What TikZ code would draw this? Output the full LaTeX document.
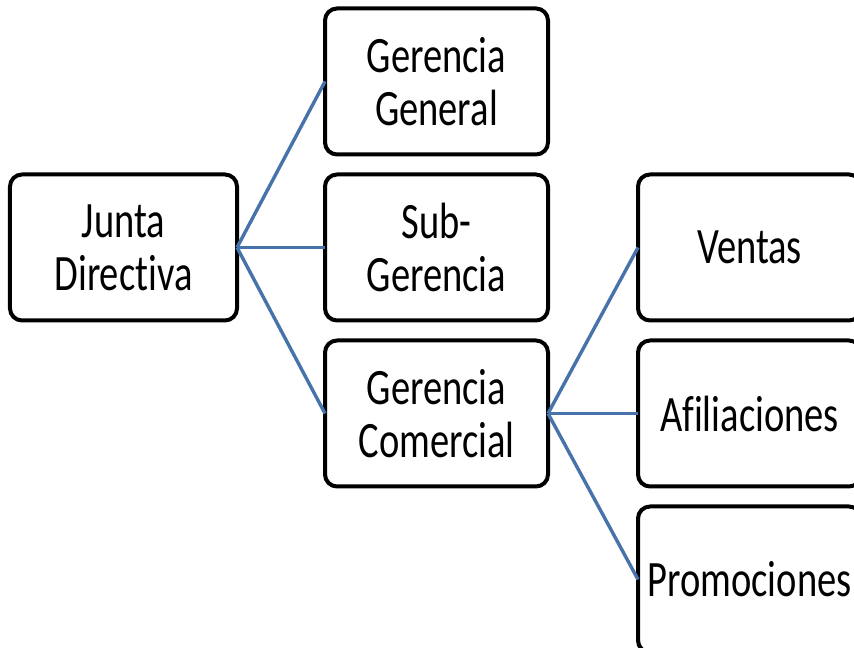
\documentclass[tikz,border=0pt]{standalone}
\usepackage{fontspec}
\setmainfont{Carlito}[FakeStretch=0.755, Ligatures={NoCommon}]
\usetikzlibrary{positioning}

\definecolor{linkblue}{RGB}{70,115,170}

\begin{document}
\begin{tikzpicture}[
    x=1bp, y=1bp,
    node distance=20bp and 88bp, % Gaps between boxes
    box/.style={draw, line width=4bp, rounded corners=12bp, outer sep=0pt,
        minimum width=223bp, minimum height=146bp, inner sep=0pt,
        align=center, font=\fontsize{51bp}{53bp}\selectfont}, % Style for the boxes
    link/.style={draw=linkblue, line width=3.4bp} % Style for the connectors
]

    % Page size
    \useasboundingbox (0,0) rectangle (854,648);

    % First level
    \node[box, minimum width=227bp] (junta) at (123.5,400.5) {Junta\\Directiva};

    % Second level
    \node[box, right=of junta] (sub) {Sub-\\Gerencia};
    \node[box, above=of sub] (general) {Gerencia\\General};
    \node[box, below=of sub] (comercial) {Gerencia\\Comercial};

    % Third level
    \node[box, right=90bp of sub] (ventas) {Ventas};
    \node[box, below=of ventas] (afiliaciones) {Afiliaciones};
    \node[box, below=of afiliaciones] (promociones) {Promociones};

    % Connectors
    \foreach \n in {general, sub, comercial} {
        \draw[link] (junta.east) -- (\n.west);
    }
    \foreach \n in {ventas, afiliaciones, promociones} {
        \draw[link] (comercial.east) -- (\n.west);
    }

\end{tikzpicture}
\end{document}
